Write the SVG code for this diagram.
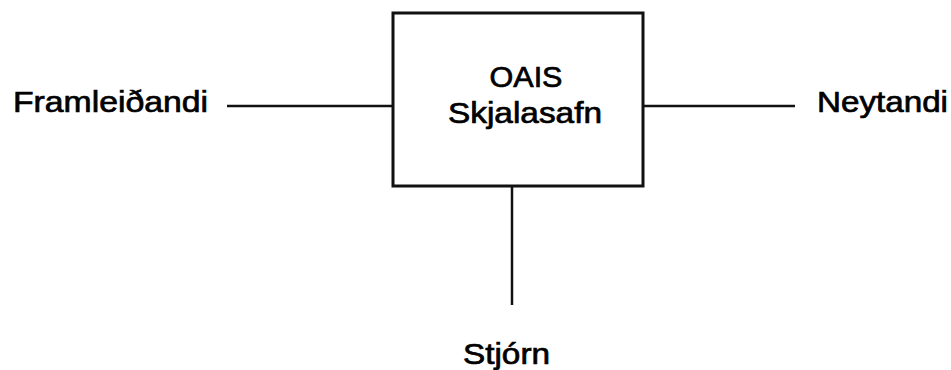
<svg xmlns="http://www.w3.org/2000/svg" width="951" height="370" viewBox="0 0 951 370">
<style>
text { font-family: "Liberation Sans", Arial, sans-serif; font-size: 29px; fill: #000; stroke: #000; stroke-width: 0.7; }
.box { fill: #fff; stroke: #111; stroke-width: 3; }
.conn line { stroke: #111; stroke-width: 2.5; }
</style>
<rect width="951" height="370" fill="#fff"/>
<g id="connectors" class="conn">
<line x1="227" y1="106" x2="393" y2="106"/>
<line x1="643" y1="106" x2="795" y2="106"/>
<line x1="512" y1="186" x2="512" y2="305"/>
</g>
<g id="oais">
<rect class="box" x="393" y="13" width="250" height="173"/>
<text x="526" y="87" text-anchor="middle" textLength="73" lengthAdjust="spacingAndGlyphs">OAIS</text>
<text x="525" y="123" text-anchor="middle" textLength="154" lengthAdjust="spacingAndGlyphs">Skjalasafn</text>
</g>
<g id="framleidandi">
<text x="13" y="112" textLength="195" lengthAdjust="spacingAndGlyphs">Framleiðandi</text>
</g>
<g id="neytandi">
<text x="817" y="112" textLength="131" lengthAdjust="spacingAndGlyphs">Neytandi</text>
</g>
<g id="stjorn">
<text x="463" y="364" textLength="87" lengthAdjust="spacingAndGlyphs">Stjórn</text>
</g>
</svg>
